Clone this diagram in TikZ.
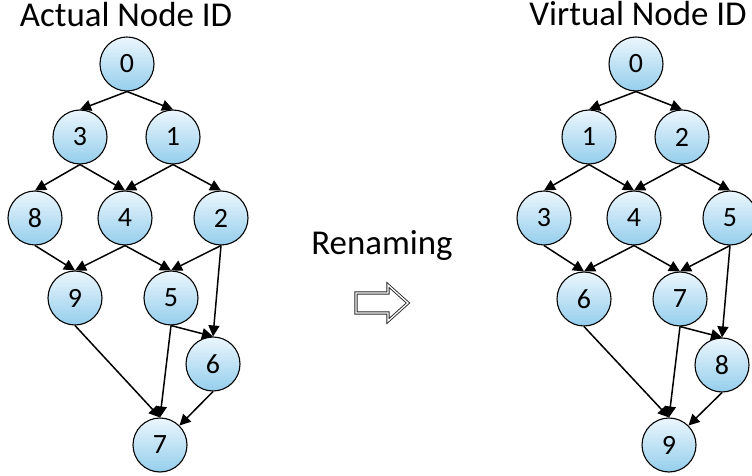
\documentclass[tikz,border=0pt]{standalone}
\usepackage{fontspec}
\setmainfont{Carlito}
\usetikzlibrary{arrows.meta}
\definecolor{nodetop}{RGB}{236,246,253}
\definecolor{nodebot}{RGB}{148,206,236}
\tikzset{
  vert/.style={circle, draw=black, line width=1.1bp, minimum size=54bp, inner sep=0pt,
    top color=nodetop, bottom color=nodebot, font=\fontsize{28}{28}\selectfont},
  edge/.style={line width=1.5bp, -{Triangle[length=11bp,width=11bp]}},
  heading/.style={font=\fontsize{35}{35}\selectfont, anchor=base, inner sep=0pt},
}
\begin{document}
\begin{tikzpicture}[x=1bp, y=-1bp]
\useasboundingbox (0,0) rectangle (752,476);

% headings
\node[heading] (tl) at (126,27) {Actual Node ID};
\node[heading] (tr) at (638,26) {Virtual Node ID};
\node[heading] (ren) at (382,255) {Renaming};

% block arrow between the two graphs
\draw[draw=black!85, line width=0.9bp, double=white, double distance=1.3bp, fill=white, line join=miter]
  (356,293) -- (388,293) -- (388,285) -- (408,303) -- (388,321) -- (388,313) -- (356,313) -- cycle;

% actual ids
\node[vert] (a0) at (127,64) {0};
\node[vert] (a3) at (80,137) {3};
\node[vert] (a1) at (173,137) {1};
\node[vert] (a8) at (35,218) {8};
\node[vert] (a4) at (125,218) {4};
\node[vert] (a2) at (221,218) {2};
\node[vert] (a9) at (75,298) {9};
\node[vert] (a5) at (171,298) {5};
\node[vert] (a6) at (213,364) {6};
\node[vert] (a7) at (160,445) {7};

\draw[edge] (a0.south) -- (a3.north);
\draw[edge] (a0.south) -- (a1.north);
\draw[edge] (a3.south) -- (a8.north);
\draw[edge] (a3.south) -- (a4.north);
\draw[edge] (a1.south) -- (a4.north);
\draw[edge] (a1.south) -- (a2.north);
\draw[edge] (a8.south) -- (a9.north);
\draw[edge] (a4.south) -- (a9.north);
\draw[edge] (a4.south) -- (a5.north);
\draw[edge] (a2.south) -- (a5.north);
\draw[edge] (a2.south) -- (a6.north);
\draw[edge] (a5.south) -- (a6.north);
\draw[edge] (a5.south) -- (a7.north);
\draw[edge] (a9.south) -- (a7.north);
\draw[edge] (a6.south) -- (a7.north east);

% virtual ids
\node[vert] (v0) at (636,64) {0};
\node[vert] (v1) at (589,137) {1};
\node[vert] (v2) at (682,137) {2};
\node[vert] (v3) at (544,218) {3};
\node[vert] (v4) at (634,218) {4};
\node[vert] (v5) at (730,218) {5};
\node[vert] (v6) at (584,299) {6};
\node[vert] (v7) at (680,299) {7};
\node[vert] (v8) at (722,365) {8};
\node[vert] (v9) at (669,445) {9};

\draw[edge] (v0.south) -- (v1.north);
\draw[edge] (v0.south) -- (v2.north);
\draw[edge] (v1.south) -- (v3.north);
\draw[edge] (v1.south) -- (v4.north);
\draw[edge] (v2.south) -- (v4.north);
\draw[edge] (v2.south) -- (v5.north);
\draw[edge] (v3.south) -- (v6.north);
\draw[edge] (v4.south) -- (v6.north);
\draw[edge] (v4.south) -- (v7.north);
\draw[edge] (v5.south) -- (v7.north);
\draw[edge] (v5.south) -- (v8.north);
\draw[edge] (v7.south) -- (v8.north);
\draw[edge] (v7.south) -- (v9.north);
\draw[edge] (v6.south) -- (v9.north);
\draw[edge] (v8.south) -- (v9.north east);
\end{tikzpicture}
\end{document}
